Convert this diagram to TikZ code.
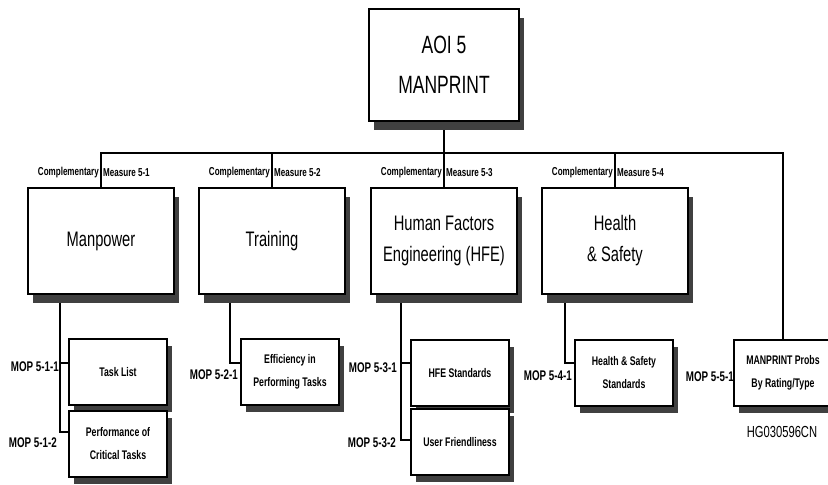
\documentclass[tikz,border=0pt]{standalone}
\usepackage{fontspec}
\setmainfont{Liberation Sans}[FakeStretch=0.7]
\usetikzlibrary{shadows, backgrounds}
\tikzset{
    bigshadow/.style={drop shadow={shadow xshift=5pt, shadow yshift=-9pt, fill=black!75, opacity=1}},
    smallshadow/.style={drop shadow={shadow xshift=5pt, shadow yshift=-7pt, fill=black!75, opacity=1}},
    topbox/.style={draw, line width=1.6pt, fill=white, bigshadow, minimum width=150pt, minimum height=112pt, align=center, font=\fontsize{25}{40}\selectfont},
    cmbox/.style={draw, line width=1.6pt, fill=white, bigshadow, minimum width=146pt, minimum height=106pt, align=center, font=\fontsize{21}{31}\selectfont},
    mopbox/.style={draw, line width=1.6pt, fill=white, smallshadow, minimum width=98pt, minimum height=66pt, align=center, font=\bfseries\fontsize{12.5}{23}\selectfont},
    cmlabel/.style={inner sep=1pt, font=\bfseries\fontsize{11.5}{13}\selectfont},
    moplabel/.style={inner sep=1pt, anchor=east, font=\bfseries\fontsize{14}{16}\selectfont},
    link/.style={line width=1.3pt}
}
\begin{document}
\begin{tikzpicture}[x=1pt, y=-1pt]
    \useasboundingbox (0,0) rectangle (828,485);
    % area of interest
    \node[topbox] (aoi) at (444,65) {AOI 5\\MANPRINT};
    % complementary measures
    \node[cmbox] (man) at (101,241) {Manpower};
    \node[cmbox] (trn) at (272,241) {Training};
    \node[cmbox] (hfe) at (444,241) {Human Factors\\Engineering (HFE)};
    \node[cmbox] (hs) at (615,241) {Health\\\& Safety};
    % measures of performance
    \node[mopbox] (task) at (118,372) {Task List};
    \node[mopbox] (crit) at (118,444) {Performance of\\Critical Tasks};
    \node[mopbox] (eff) at (290,372) {Efficiency in\\Performing Tasks};
    \node[mopbox] (hfestd) at (460,373) {HFE Standards};
    \node[mopbox] (user) at (460,442) {User Friendliness};
    \node[mopbox] (hsstd) at (624,373) {Health \& Safety\\Standards};
    \node[mopbox] (probs) at (783,373) {MANPRINT Probs\\By Rating/Type};
    \coordinate (bus) at (101,153);
    \coordinate (e511) at (60,363);
    \coordinate (e512) at (60,432);
    \coordinate (e521) at (230,363);
    \coordinate (e531) at (401,363);
    \coordinate (e532) at (401,440);
    \coordinate (e541) at (565,363);
    \begin{scope}[on background layer]
        \draw[link] (aoi) -- (hfe);
        \draw[link] (man.north) -- (man.north |- bus) -- (probs.north |- bus) -- (probs.north);
        \draw[link] (trn.north) -- (trn.north |- bus);
        \draw[link] (hs.north) -- (hs.north |- bus);
        \draw[link] (man.south -| e512) -- (e512) -- (e512 -| crit.west);
        \draw[link] (e511) -- (e511 -| task.west);
        \draw[link] (trn.south -| e521) -- (e521) -- (e521 -| eff.west);
        \draw[link] (hfe.south -| e532) -- (e532) -- (e532 -| user.west);
        \draw[link] (e531) -- (e531 -| hfestd.west);
        \draw[link] (hs.south -| e541) -- (e541) -- (e541 -| hsstd.west);
    \end{scope}
    % labels on the drops
    \foreach \cm/\num in {man/1, trn/2, hfe/3, hs/4} {
        \node[cmlabel, anchor=east] at ([xshift=-1pt]\cm.north |- 0,173) {Complementary};
        \node[cmlabel, anchor=west] at ([xshift=1pt]\cm.north |- 0,173) {Measure 5-\num};
    }
    \node[moplabel] at (60,367) {MOP 5-1-1};
    \node[moplabel] at (58,443) {MOP 5-1-2};
    \node[moplabel] at (239,375) {MOP 5-2-1};
    \node[moplabel] at (398,368) {MOP 5-3-1};
    \node[moplabel] at (397,443) {MOP 5-3-2};
    \node[moplabel] at (573,376) {MOP 5-4-1};
    \node[moplabel] at (735,377) {MOP 5-5-1};
    \node[font=\fontsize{16}{18}\selectfont] (code) at (782,432) {HG030596CN};
\end{tikzpicture}
\end{document}
